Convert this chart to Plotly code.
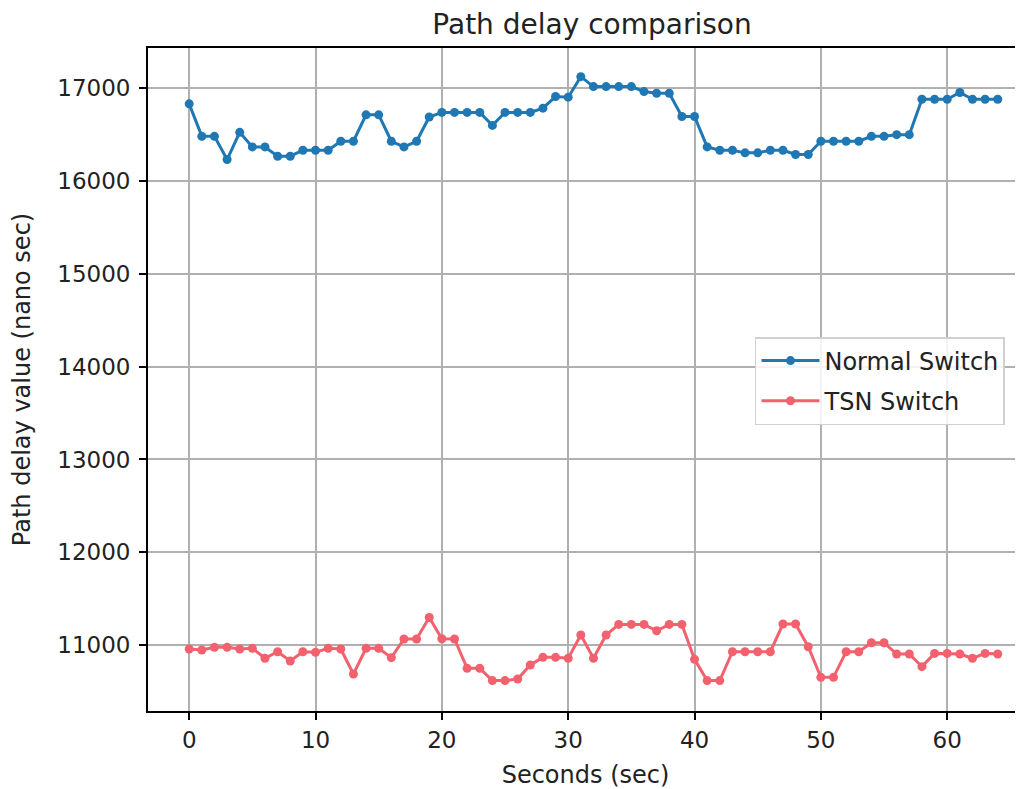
import plotly.graph_objects as go

seconds = list(range(65))
normal_switch = [16832, 16482, 16482, 16232, 16525, 16368, 16368, 16268, 16268, 16332,
                 16332, 16332, 16429, 16429, 16714, 16714, 16429, 16368, 16429, 16690,
                 16740, 16740, 16740, 16740, 16600, 16740, 16740, 16740, 16786, 16911,
                 16904, 17125, 17018, 17018, 17018, 17018, 16964, 16946, 16946, 16696,
                 16696, 16368, 16332, 16332, 16304, 16304, 16332, 16332, 16286, 16286,
                 16429, 16429, 16429, 16429, 16482, 16482, 16500, 16500, 16882, 16882,
                 16882, 16954, 16882, 16882, 16882]
tsn_switch = [10957, 10946, 10975, 10975, 10957, 10964, 10857, 10928, 10828, 10928,
              10921, 10964, 10957, 10688, 10964, 10964, 10864, 11065, 11065, 11297,
              11068, 11065, 10749, 10749, 10617, 10617, 10634, 10785, 10867, 10867,
              10857, 11108, 10857, 11108, 11222, 11222, 11222, 11154, 11222, 11222,
              10846, 10617, 10617, 10928, 10928, 10928, 10928, 11226, 11226, 10982,
              10652, 10652, 10928, 10928, 11025, 11025, 10903, 10903, 10767, 10910,
              10910, 10903, 10857, 10910, 10903]
x_ticks = [0, 10, 20, 30, 40, 50, 60]
y_ticks = [11000, 12000, 13000, 14000, 15000, 16000, 17000]

fig = go.Figure()
fig.add_trace(go.Scatter(x=seconds, y=normal_switch, mode="lines+markers", name="Normal Switch",
                         legendgroup="a",
                         line=dict(color="#1f77b4", width=3), marker=dict(size=9, color="#1f77b4")))
fig.add_trace(go.Scatter(x=seconds, y=tsn_switch, mode="lines+markers", name="TSN Switch",
                         legendgroup="b",
                         line=dict(color="#f2616d", width=3), marker=dict(size=9, color="#f2616d")))

font = "DejaVu Sans"
fig.update_layout(
    width=1015, height=781,
    margin=dict(l=140, r=0, t=40, b=78, autoexpand=False),
    paper_bgcolor="white", plot_bgcolor="white",
    font=dict(family=font, size=23, color="#222"),
    title=dict(text="Path delay comparison", x=584/1015, xanchor="center", y=1 - 16/781, yanchor="middle",
               font=dict(family=font, size=28, color="#222")),
    legend=dict(x=0.6937, y=(711 - 337) / 663, xanchor="left", yanchor="top",
                bgcolor="rgba(255,255,255,0.85)", bordercolor="#d0d0d0", borderwidth=1.5,
                font=dict(family=font, size=24), itemwidth=58, tracegroupgap=6),
    showlegend=True,
)
fig.update_xaxes(range=[-3.26, 66.0], tickvals=x_ticks, showgrid=True, gridcolor="#b0b0b0", gridwidth=1.5,
                 showline=True, linecolor="black", linewidth=1.8, mirror=True, automargin=False,
                 ticks="outside", ticklen=7, tickwidth=1.5, tickcolor="black", zeroline=False,
                 title=dict(text="Seconds (sec)", font=dict(family=font, size=24), standoff=15),
                 tickfont=dict(family=font, size=23))
fig.update_yaxes(range=[10289, 17434], tickvals=y_ticks, tickformat="d", showgrid=True, gridcolor="#b0b0b0",
                 gridwidth=1.5, showline=True, linecolor="black", linewidth=1.8, mirror=False, automargin=False,
                 ticks="outside", ticklen=7, tickwidth=1.5, tickcolor="black", zeroline=False,
                 ticklabelstandoff=4,
                 title=dict(text="Path delay value (nano sec)", font=dict(family=font, size=24), standoff=20),
                 tickfont=dict(family=font, size=23))

fig.write_html("out.html")
